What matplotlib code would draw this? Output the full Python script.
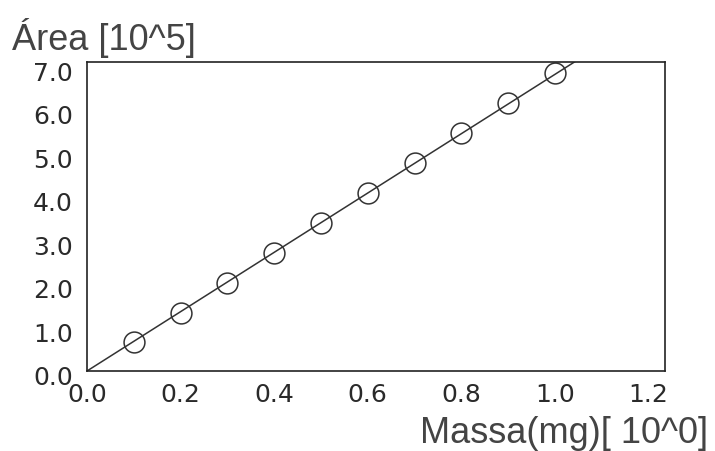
import numpy as np
import matplotlib
matplotlib.use("Agg")
import matplotlib.pyplot as plt
import matplotlib.transforms as mtransforms

## data
massa = [0.1, 0.2, 0.3, 0.4, 0.5, 0.6, 0.7, 0.8, 0.9, 1.0]
area = [0.67, 1.34, 2.02, 2.70, 3.39, 4.08, 4.77, 5.46, 6.15, 6.84]
xticks = [0.0, 0.2, 0.4, 0.6, 0.8, 1.0, 1.2]
yticks = [0.0, 1.0, 2.0, 3.0, 4.0, 5.0, 6.0, 7.0]
xlabel = "Massa(mg)[ 10^0]"
ylabel = "Área [10^5]"

## fit through origin
slope = np.sum(np.array(massa) * np.array(area)) / np.sum(np.array(massa) ** 2)
xfit = np.array([0.0, 1.2])

fig = plt.figure(figsize=(7.15, 4.52), dpi=100)
ax = fig.add_axes([87/715, 1 - 372/452, (665 - 87)/715, (372 - 63)/452])

ax.plot(xfit, slope * xfit, color="#333333", lw=1.1)
ax.plot(massa, area, "o", ms=15, mfc="none", mec="#333333", mew=1.1)

ax.set_xlim(0, 1.235)
ax.set_ylim(0, 7.1)
ax.set_xticks(xticks)
ax.set_yticks(yticks)
ax.set_xticklabels(["%.1f" % v for v in xticks])
ax.set_yticklabels(["%.1f" % v for v in yticks])
ax.tick_params(length=0, labelsize=18, labelcolor="#2a2a2a")
ax.tick_params(axis="x", pad=8)
ax.tick_params(axis="y", pad=10)
for lab in ax.get_xticklabels() + ax.get_yticklabels():
    lab.set_family("DejaVu Sans")
# y labels sit a little below their ticks in the original
shift = mtransforms.ScaledTranslation(0, -4/100, fig.dpi_scale_trans)
for lab in ax.get_yticklabels():
    lab.set_transform(lab.get_transform() + shift)
for sp in ax.spines.values():
    sp.set_linewidth(1.2)
    sp.set_color("#222222")

fig.text(12/715, 1 - 50/452, ylabel, fontsize=26, color="#444444",
         family="Liberation Sans", ha="left", va="baseline")
fig.text(708/715, 1 - 443/452, xlabel, fontsize=26, color="#444444",
         family="Liberation Sans", ha="right", va="baseline")

fig.savefig("out.png", dpi=100)
